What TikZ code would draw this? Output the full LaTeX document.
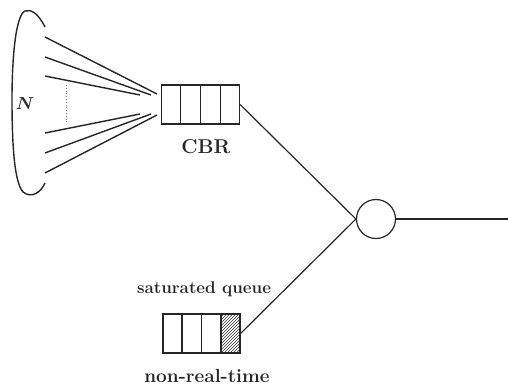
\documentclass[tikz,border=0pt]{standalone}
\usepackage{bm}
\usetikzlibrary{patterns,calc}
\begin{document}
\begin{tikzpicture}[x=1pt,y=-1pt,
  ln/.style={draw=black!85,line width=1.2pt},
  fan/.style={draw=black!85,line width=1.4pt},
  qbox/.style={draw=black!85,line width=1.2pt,minimum width=78pt,minimum height=39pt,inner sep=0pt},
  lbl/.style={font=\bfseries\fontsize{17}{20}\selectfont,text=black!85,inner sep=0pt,anchor=base},
  bigl/.style={font=\bfseries\fontsize{20}{24}\selectfont,text=black!85,inner sep=0pt,anchor=base}]
\useasboundingbox (0,0) rectangle (508,385);
% CBR queue
\node[qbox] (cbr) at (200.5,104.5) {};
\foreach \i in {1,2,3} \draw[ln] ($(cbr.north west)!\i/4!(cbr.north east)$) -- ($(cbr.south west)!\i/4!(cbr.south east)$);
\node[bigl] (cbrl) at (206,153) {CBR};
% non-real-time queue
\node[qbox,minimum width=77pt] (nrt) at (201.5,333.5) {};
\fill[pattern=north east lines,pattern color=black!80] ($(nrt.north west)!3/4!(nrt.north east)$) rectangle (nrt.south east);
\foreach \i in {1,2,3} \draw[ln] ($(nrt.north west)!\i/4!(nrt.north east)$) -- ($(nrt.south west)!\i/4!(nrt.south east)$);
\node[qbox,minimum width=77pt] at (201.5,333.5) {};
\node[lbl] (satl) at (204,293) {saturated queue};
\node[lbl,font=\bfseries\fontsize{19}{22}\selectfont] (nrtl) at (207,382) {non-real-time};
% server
\node[circle,draw=black!85,line width=1.2pt,minimum size=39pt,inner sep=0pt] (srv) at (376,219) {};
\coordinate (out) at (508,219);
\draw[ln] (cbr.east) -- (srv.west);
\draw[ln] (nrt.east) -- (srv.west);
\draw[ln] (srv.east) -- (out);
% sources
\draw[fan] (45,27) .. controls (38,13) and (31,9) .. (25,11) .. controls (16,15) and (12,55) .. (12,100) .. controls (12,150) and (15,183) .. (23,192) .. controls (32,199) and (41,192) .. (45,183);
\node[inner sep=0pt,text=black!85,anchor=base,font=\fontsize{19}{22}\selectfont] (N) at (25,110) {$\bm{N}$};
\coordinate (s1) at (45,37); \coordinate (e1) at (157,94);
\coordinate (s2) at (45,57); \coordinate (e2) at (151,95);
\coordinate (s3) at (45,76); \coordinate (e3) at (140,95);
\coordinate (s4) at (45,133); \coordinate (e4) at (140,114);
\coordinate (s5) at (45,153); \coordinate (e5) at (151,114);
\coordinate (s6) at (45,173); \coordinate (e6) at (157,115);
\foreach \k in {1,...,6} \draw[fan] (s\k) -- (e\k);
\coordinate (d1) at (66,85); \coordinate (d2) at (66,123);
\draw[black!50,line width=0.8pt,dotted] (d1) -- (d2);
\end{tikzpicture}
\end{document}
